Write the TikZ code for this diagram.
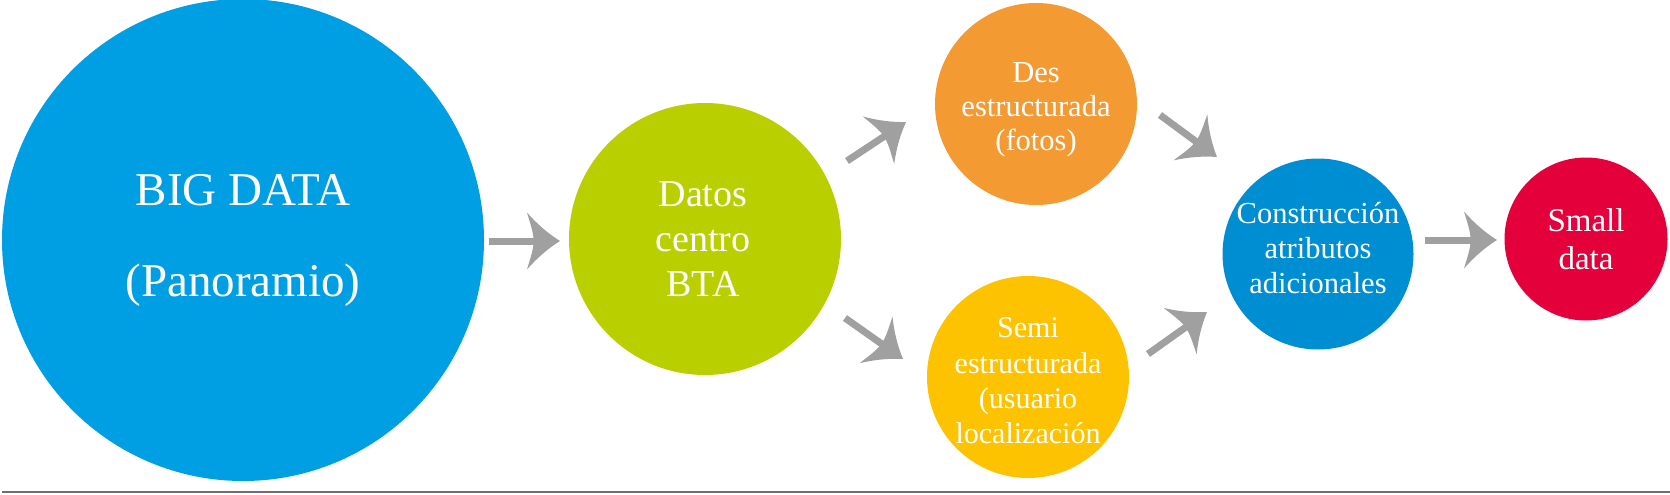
\documentclass[tikz,border=0pt]{standalone}
\usepackage{fontspec}
\setmainfont{Liberation Serif}
\usetikzlibrary{arrows.meta}
\pgfdeclarearrow{
  name = Barb,
  parameters = {\the\pgfarrowlength,\the\pgfarrowwidth},
  setup code = {
    \pgfarrowssettipend{0pt}
    \pgfarrowssetlineend{-.7\pgfarrowlength}
    \pgfarrowshullpoint{0pt}{0pt}
    \pgfarrowsupperhullpoint{-\pgfarrowlength}{.5\pgfarrowwidth}
    \pgfarrowssavethe\pgfarrowlength
    \pgfarrowssavethe\pgfarrowwidth
  },
  drawing code = {
    \pgfpathmoveto{\pgfqpoint{0pt}{0pt}}
    \pgfpathcurveto{\pgfqpoint{-.36\pgfarrowlength}{.13\pgfarrowwidth}}{\pgfqpoint{-.7\pgfarrowlength}{.3\pgfarrowwidth}}{\pgfqpoint{-\pgfarrowlength}{.5\pgfarrowwidth}}
    \pgfpathcurveto{\pgfqpoint{-.9\pgfarrowlength}{.3\pgfarrowwidth}}{\pgfqpoint{-.8\pgfarrowlength}{.15\pgfarrowwidth}}{\pgfqpoint{-.8\pgfarrowlength}{0pt}}
    \pgfpathcurveto{\pgfqpoint{-.8\pgfarrowlength}{-.15\pgfarrowwidth}}{\pgfqpoint{-.9\pgfarrowlength}{-.3\pgfarrowwidth}}{\pgfqpoint{-\pgfarrowlength}{-.5\pgfarrowwidth}}
    \pgfpathcurveto{\pgfqpoint{-.7\pgfarrowlength}{-.3\pgfarrowwidth}}{\pgfqpoint{-.36\pgfarrowlength}{-.13\pgfarrowwidth}}{\pgfqpoint{0pt}{0pt}}
    \pgfpathclose
    \pgfusepathqfill
  },
  defaults = {length=33pt, width=57pt}
}
\definecolor{bigblue}{RGB}{0,159,227}
\definecolor{lime}{RGB}{185,207,0}
\definecolor{orng}{RGB}{243,154,50}
\definecolor{yell}{RGB}{253,195,0}
\definecolor{midblue}{RGB}{0,142,210}
\definecolor{rred}{RGB}{228,0,58}
\definecolor{arrgray}{RGB}{160,160,160}
\definecolor{rulegray}{RGB}{110,110,110}
\tikzset{
  disc/.style={circle, draw=none, inner sep=0pt},
  lbl/.style={text=white, align=center, inner sep=0pt},
  arr/.style={draw=arrgray, line width=7pt, -{Barb}, arrgray},
  rulestyle/.style={draw=rulegray, line width=1.6pt}
}
\begin{document}
\begin{tikzpicture}[x=1pt, y=-1pt]
\useasboundingbox (0,0) rectangle (1670,495);
% circles
\node[disc, fill=bigblue, minimum size=482pt] (big) at (243,240) {};
\node[disc, fill=lime, minimum size=272pt] (green) at (705,239) {};
\node[disc, fill=orng, minimum size=202pt] (orange) at (1036,104) {};
\node[disc, fill=yell, minimum size=202pt] (yellow) at (1028,377) {};
\node[disc, fill=midblue, minimum size=191pt] (constr) at (1318,254) {};
\node[disc, fill=rred, minimum size=163pt] (small) at (1586,239) {};
% texts
\node[lbl, font=\fontsize{47}{91}\selectfont] (bigt) at (243,240) {BIG DATA\\(Panoramio)};
\node[lbl, font=\fontsize{38}{45}\selectfont] (greent) at (703,239) {Datos\\centro\\BTA};
\node[lbl, font=\fontsize{30.5}{34}\selectfont] (oranget) at (1036,110) {Des\\estructurada\\(fotos)};
\node[lbl, font=\fontsize{30}{35.3}\selectfont] (yellowt) at (1028,381) {Semi\\estructurada\\(usuario\\localización};
\node[lbl, font=\fontsize{30.5}{35}\selectfont] (constrt) at (1318,248) {Construcción\\atributos\\adicionales};
\node[lbl, font=\fontsize{33}{38}\selectfont] (smallt) at (1586,239) {Small\\data};
% arrow end points
\coordinate (a1s) at (489,241); \coordinate (a1e) at (560,241);
\coordinate (a2s) at (847,161); \coordinate (a2e) at (906,122);
\coordinate (a3s) at (1160,115); \coordinate (a3e) at (1217,157);
\coordinate (a4s) at (845,318); \coordinate (a4e) at (903,359);
\coordinate (a5s) at (1148,354); \coordinate (a5e) at (1207,312);
\coordinate (a6s) at (1425,240); \coordinate (a6e) at (1497,240);
\draw[arr] (a1s) -- (a1e);
\draw[arr] (a2s) -- (a2e);
\draw[arr] (a3s) -- (a3e);
\draw[arr] (a4s) -- (a4e);
\draw[arr] (a5s) -- (a5e);
\draw[arr] (a6s) -- (a6e);
% bottom rule
\coordinate (rl) at (2,492); \coordinate (rr) at (1670,492);
\draw[rulestyle] (rl) -- (rr);
\end{tikzpicture}
\end{document}
